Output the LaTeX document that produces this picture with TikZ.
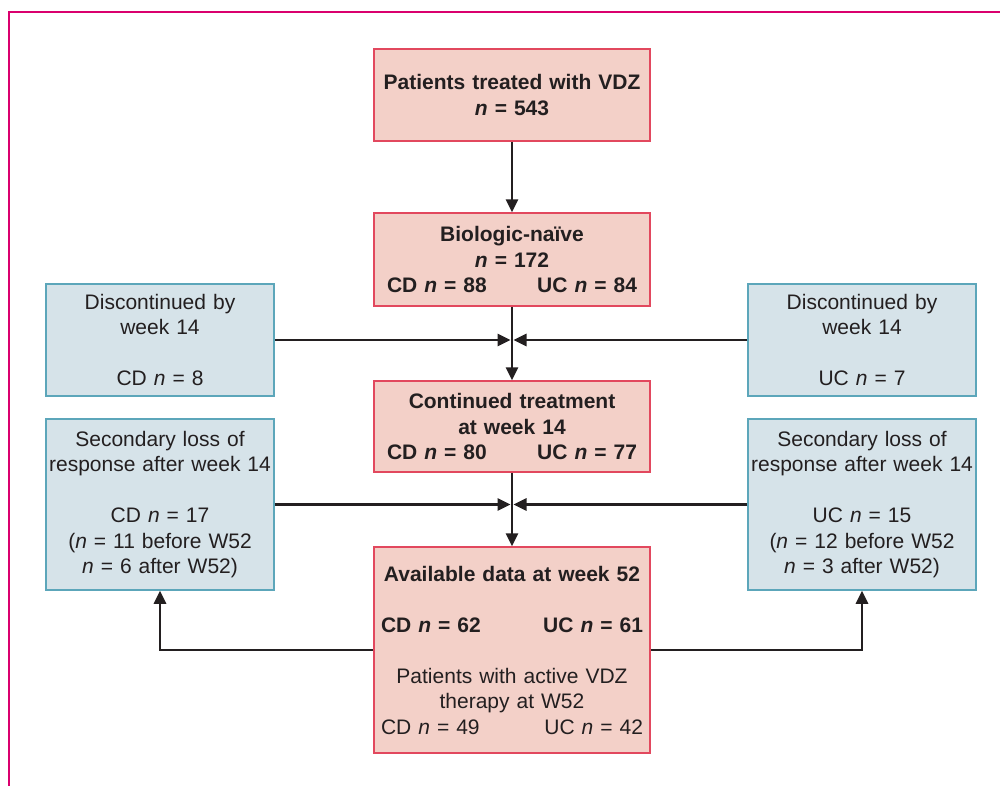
\documentclass[tikz,border=0pt]{standalone}
\usepackage{fontspec}
\setmainfont{Liberation Sans}
\usetikzlibrary{arrows.meta}
\definecolor{frame}{RGB}{218,0,110}
\definecolor{pinkfill}{RGB}{243,208,200}
\definecolor{pinkline}{RGB}{226,72,94}
\definecolor{bluefill}{RGB}{214,227,233}
\definecolor{blueline}{RGB}{92,166,186}
\definecolor{ink}{RGB}{35,31,32}
\begin{document}
\begin{tikzpicture}[x=1pt,y=-1pt,
  basebox/.style={align=center, inner xsep=0pt, inner ysep=0pt, text=ink,
    font=\fontsize{21pt}{25.5pt}\selectfont, line width=1.5pt},
  pinkbox/.style={basebox, fill=pinkfill, draw=pinkline, minimum width=276pt, text width=250pt},
  bluebox/.style={basebox, fill=bluefill, draw=blueline, minimum width=228pt, text width=226pt},
  arr/.style={draw=ink, line width=2.7pt, -{Triangle[length=13pt,width=12pt]}},
  framestyle/.style={draw=frame, line width=2.8pt}
]
\useasboundingbox (0,0) rectangle (1000,785);
\draw[framestyle] (9,786) -- (9,12) -- (1001,12);

\node[pinkbox, minimum height=92pt, text width=266pt] (top) at (512,95)
  {\textbf{Patients treated with VDZ}\\\textbf{\textit{n} = 543}};
\node[pinkbox, minimum height=93pt] (bio) at (512,259.5)
  {\textbf{Biologic-naïve}\\\textbf{\textit{n} = 172}\\\textbf{CD \textit{n} = 88\hfill UC \textit{n} = 84}};
\node[pinkbox, minimum height=91pt] (cont) at (512,426.5)
  {\textbf{Continued treatment}\\\textbf{at week 14}\\\textbf{CD \textit{n} = 80\hfill UC \textit{n} = 77}};
\node[pinkbox, minimum height=206pt, text width=262pt] (avail) at (512,650)
  {\textbf{Available data at week 52}\\[25.5pt]\textbf{CD \textit{n} = 62\hfill UC \textit{n} = 61}\\[25.5pt]
   Patients with active VDZ\\therapy at W52\\CD \textit{n} = 49\hfill UC \textit{n} = 42};

\node[bluebox, minimum height=112pt] (disL) at (160,340)
  {Discontinued by\\week 14\\[25.5pt]CD \textit{n} = 8};
\node[bluebox, minimum height=112pt] (disR) at (862,340)
  {Discontinued by\\week 14\\[25.5pt]UC \textit{n} = 7};
\node[bluebox, minimum height=171pt] (secL) at (160,504.5)
  {Secondary loss of\\response after week 14\\[25.5pt]CD \textit{n} = 17\\(\textit{n} = 11 before W52\\\textit{n} = 6 after W52)};
\node[bluebox, minimum height=171pt] (secR) at (862,504.5)
  {Secondary loss of\\response after week 14\\[25.5pt]UC \textit{n} = 15\\(\textit{n} = 12 before W52\\\textit{n} = 3 after W52)};

\coordinate (jL1) at ([xshift=-1.5pt]bio.south |- disL.east);
\coordinate (jR1) at ([xshift=1.5pt]bio.south |- disR.east);
\coordinate (jL2) at ([xshift=-1.5pt]cont.south |- secL.east);
\coordinate (jR2) at ([xshift=1.5pt]cont.south |- secR.east);

\draw[arr] (top.south) -- (bio.north);
\draw[arr] (bio.south) -- (cont.north);
\draw[arr] (cont.south) -- (avail.north);
\draw[arr] (disL.east) -- (jL1);
\draw[arr] (disR.west) -- (jR1);
\draw[arr] (secL.east) -- (jL2);
\draw[arr] (secR.west) -- (jR2);
\draw[arr] (avail.west) -| (secL.south);
\draw[arr] (avail.east) -| (secR.south);
\end{tikzpicture}
\end{document}
